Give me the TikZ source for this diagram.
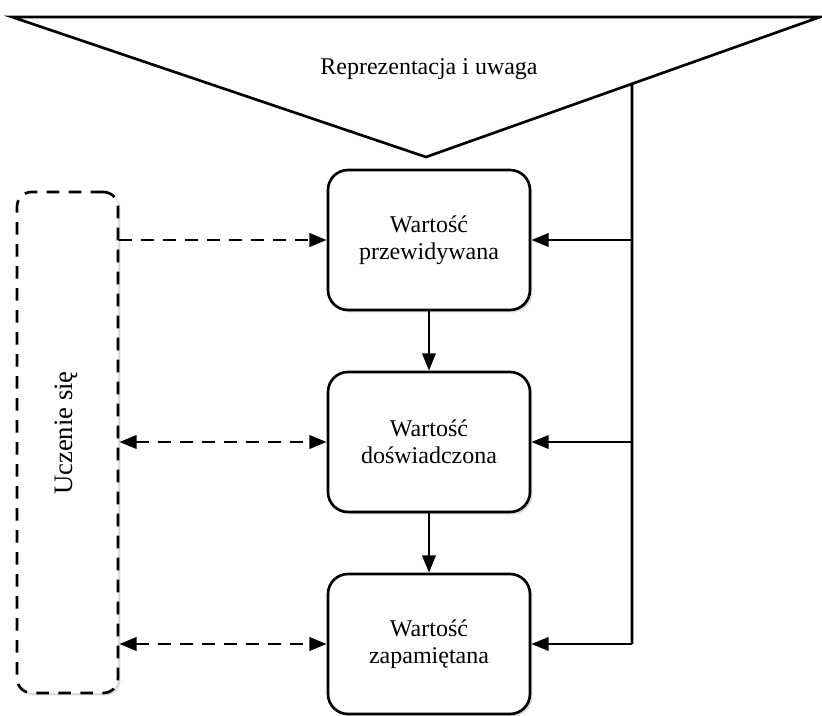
\documentclass[tikz,border=0pt]{standalone}
\usepackage{fontspec}
\setmainfont{Liberation Serif}
\usetikzlibrary{arrows.meta,shadows,calc}

\tikzset{
  x=0.75pt, y=-0.75pt,
  every node/.style={font=\fontsize{18}{20.5}\selectfont, align=center},
  tip/.style={Triangle[length=13pt,width=10pt]},
  stage/.style={draw, line width=2pt, rounded corners=15pt, fill=white,
    minimum width=151.5pt, minimum height=105pt, inner sep=0pt,
    drop shadow={opacity=0.3, shadow xshift=1.8pt, shadow yshift=-1.8pt}},
  learnbox/.style={draw, line width=2pt, dash pattern=on 9.5pt off 7pt,
    rounded corners=11pt, fill=white,
    minimum width=75.75pt, minimum height=375.75pt, inner sep=0pt,
    drop shadow={opacity=0.3, shadow xshift=1.8pt, shadow yshift=-1.8pt}},
  flow/.style={line width=2pt, -{Triangle[length=13pt,width=10pt]}},
  feedback/.style={line width=2.2pt, dash pattern=on 9.5pt off 7pt,
    {Triangle[length=13pt,width=10pt]}-{Triangle[length=13pt,width=10pt]}},
  feedin/.style={line width=2.2pt, dash pattern=on 9.5pt off 7pt,
    -{Triangle[length=13pt,width=10pt]}},
}

\begin{document}
\begin{tikzpicture}
  \useasboundingbox (0,0) rectangle (822,715);

  % funnel for representation and attention
  \coordinate (tl) at (12,17);
  \coordinate (tr) at (820,17);
  \coordinate (apex) at (426,157);
  \draw[line width=2pt, line join=miter] (tl) -- (tr) -- (apex) -- cycle;
  \node (repr) at (429,69) {Reprezentacja i uwaga};

  % value stages
  \node[stage] (pred) at (429,240) {Wartość\\przewidywana};
  \node[stage] (exp)  at (429,442) {Wartość\\doświadczona};
  \node[stage] (mem)  at (429,644) {Wartość\\zapamiętana};

  % learning block
  \node[learnbox] (learn) at (67.5,442.5) {};
  \node[rotate=90, font=\fontsize{20}{22}\selectfont] (learntxt) at (66,433) {Uczenie się};

  % main chain
  \draw[flow] (pred) -- (exp);
  \draw[flow] (exp) -- (mem);

  % attention bus on the right
  \coordinate (bustop) at (intersection of apex--tr and 632,0--632,700);
  \coordinate (busbot) at (632,644);
  \draw[line width=2pt] (bustop) -- (busbot);
  \draw[flow] (busbot) -- (mem.east);
  \draw[flow] (bustop |- pred.east) -- (pred.east);
  \draw[flow] (bustop |- exp.east) -- (exp.east);

  % learning links
  \draw[feedin] (learn.east |- pred.west) -- (pred.west);
  \draw[feedback] (learn.east |- exp.west) -- (exp.west);
  \draw[feedback] (learn.east |- mem.west) -- (mem.west);
\end{tikzpicture}
\end{document}
